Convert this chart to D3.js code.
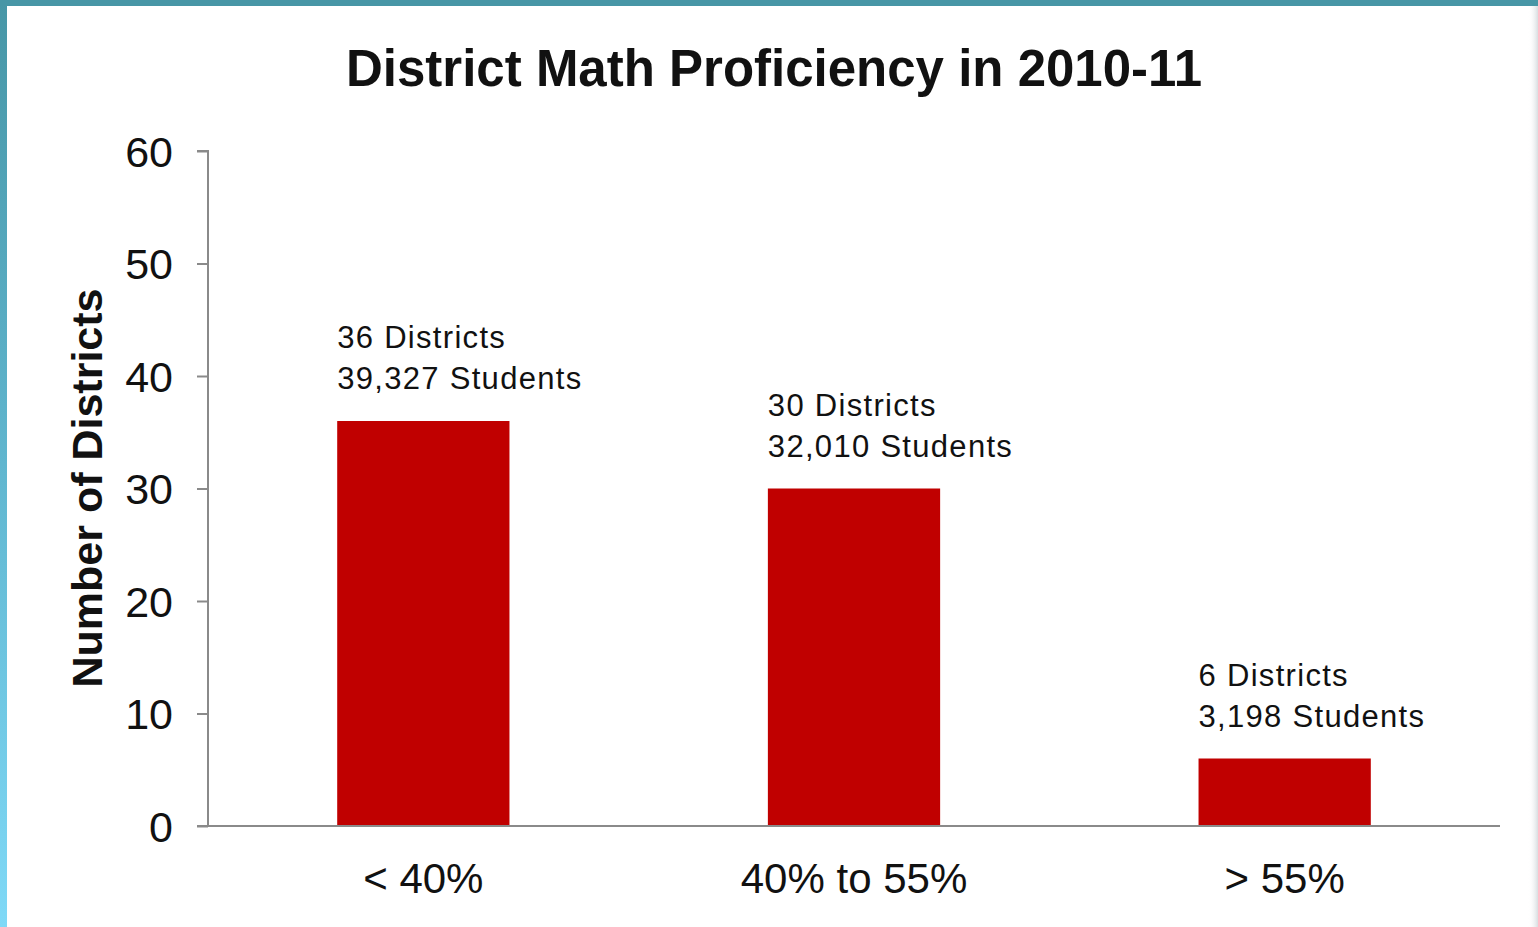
<!DOCTYPE html>
<html>
<head>
<meta charset="utf-8">
<script src="https://cdn.jsdelivr.net/npm/d3@7"></script>
<style>
  html, body { margin: 0; padding: 0; background: #fff; }
  svg { display: block; }
  text { font-family: "Liberation Sans", Arial, sans-serif; fill: #111; }
</style>
</head>
<body>
<script>
// Districts grouped by share of students proficient in math
const categories = ["< 40%", "40% to 55%", "> 55%"];
const districts = [36, 30, 6];
const students = ["39,327", "32,010", "3,198"];
const yTicks = [0, 10, 20, 30, 40, 50, 60];

const W = 1538, H = 927;
const svg = d3.select("body").append("svg").attr("width", W).attr("height", H);

// slide frame: teal bar on top, blue gradient strip on the left
const defs = svg.append("defs");
const grad = defs.append("linearGradient").attr("id", "sideGrad")
  .attr("x1", 0).attr("y1", 0).attr("x2", 0).attr("y2", 1);
grad.append("stop").attr("offset", "0%").attr("stop-color", "#4796a6");
grad.append("stop").attr("offset", "50%").attr("stop-color", "#60b6cf");
grad.append("stop").attr("offset", "100%").attr("stop-color", "#7fd9f7");
const edge = defs.append("linearGradient").attr("id", "edgeGrad")
  .attr("x1", 0).attr("y1", 0).attr("x2", 1).attr("y2", 0);
edge.append("stop").attr("offset", "0%").attr("stop-color", "#ffffff").attr("stop-opacity", 0);
edge.append("stop").attr("offset", "100%").attr("stop-color", "#d8dde0").attr("stop-opacity", 1);

svg.append("rect").attr("x", 1528).attr("y", 0).attr("width", 10).attr("height", H)
  .attr("fill", "url(#edgeGrad)");
svg.append("rect").attr("x", 0).attr("y", 0).attr("width", 7).attr("height", H)
  .attr("fill", "url(#sideGrad)");
svg.append("rect").attr("x", 0).attr("y", 0).attr("width", W).attr("height", 6)
  .attr("fill", "#4796a6");

const plot = { left: 208, right: 1500, top: 151, bottom: 826 };

const x = d3.scaleBand().domain(categories)
  .range([plot.left, plot.right])
  .paddingInner(0.6).paddingOuter(0.3);
const y = d3.scaleLinear().domain([0, 60]).range([plot.bottom, plot.top]);

// title
svg.append("text")
  .attr("x", 774).attr("y", 86)
  .attr("text-anchor", "middle")
  .attr("font-size", 51).attr("font-weight", "bold")
  .text("District Math Proficiency in 2010-11");

// y axis
const yAxis = svg.append("g")
  .attr("transform", `translate(${plot.left},0)`)
  .call(d3.axisLeft(y).tickValues(yTicks).tickSize(11).tickPadding(24));
yAxis.selectAll("path, line").attr("stroke", "#8a8a8a").attr("stroke-width", 2);
yAxis.select(".domain").attr("d", `M-11,${plot.top}H0V${plot.bottom}`);
yAxis.selectAll("text")
  .attr("font-family", "Liberation Sans, Arial, sans-serif")
  .attr("font-size", 43).attr("fill", "#111").attr("dy", "0.36em");

svg.append("text")
  .attr("transform", `translate(102,488) rotate(-90)`)
  .attr("text-anchor", "middle")
  .attr("font-size", 43).attr("font-weight", "bold")
  .text("Number of Districts");

// bars
svg.append("g").selectAll("rect")
  .data(categories)
  .join("rect")
  .attr("x", d => x(d))
  .attr("width", x.bandwidth())
  .attr("y", (d, i) => y(districts[i]))
  .attr("height", (d, i) => y(0) - y(districts[i]))
  .attr("fill", "#c00000");

// x axis baseline and category labels
svg.append("line")
  .attr("x1", plot.left - 11).attr("x2", plot.right)
  .attr("y1", y(0)).attr("y2", y(0))
  .attr("stroke", "#8a8a8a").attr("stroke-width", 2);

svg.append("g").selectAll("text")
  .data(categories)
  .join("text")
  .attr("x", d => x(d) + x.bandwidth() / 2)
  .attr("y", 893)
  .attr("text-anchor", "middle")
  .attr("font-size", 42)
  .text(d => d);

// value annotations above each bar
const notes = svg.append("g").selectAll("text")
  .data(categories)
  .join("text")
  .attr("x", d => x(d))
  .attr("y", (d, i) => y(districts[i]) - 73)
  .attr("font-size", 31)
  .attr("letter-spacing", "1.3px")
  .attr("fill", "#222");
notes.append("tspan").text((d, i) => `${districts[i]} Districts`);
notes.append("tspan")
  .attr("x", d => x(d)).attr("dy", 41)
  .text((d, i) => `${students[i]} Students`);
</script>
</body>
</html>
